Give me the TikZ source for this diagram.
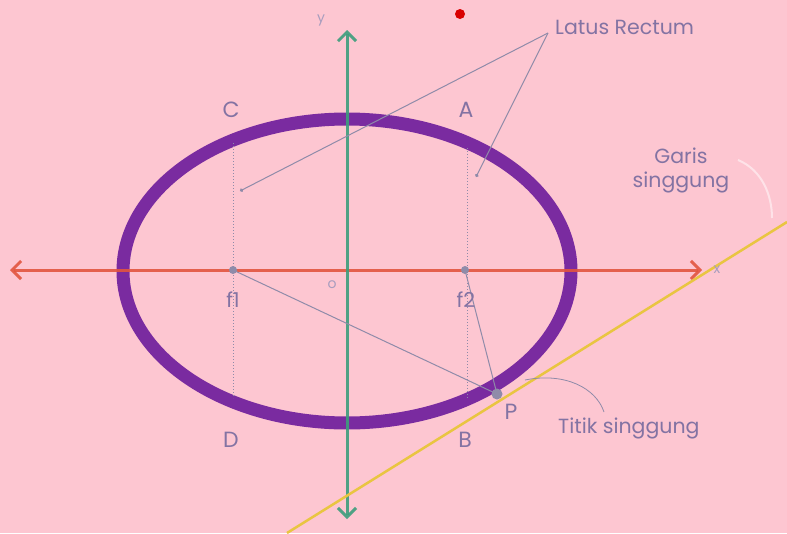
\documentclass[tikz,border=0pt]{standalone}
\usepackage{fontspec}
\setmainfont{Poppins}
\usetikzlibrary{arrows.meta}
\definecolor{bg}{HTML}{FDC6D1}
\definecolor{ellcol}{HTML}{7A2BA0}
\definecolor{xcol}{HTML}{E2553F}
\definecolor{ycol}{HTML}{3C9E7C}
\definecolor{tancol}{HTML}{E9C541}
\definecolor{txtcol}{HTML}{8373A3}
\definecolor{linecol}{HTML}{8F8BA9}
\begin{document}
\begin{tikzpicture}[x=1pt,y=-1pt,
  lbl/.style={text=txtcol,font=\fontsize{22}{24}\selectfont,inner sep=0pt},
  smalllbl/.style={text=txtcol,font=\fontsize{20.5}{24}\selectfont,inner sep=0pt,align=center},
  tinylbl/.style={text=txtcol!70,font=\fontsize{14}{15}\selectfont,inner sep=0pt},
  guide/.style={draw=linecol,line width=1pt},
  dotline/.style={draw=linecol,line width=1pt,dotted},
  axisarrow/.style={line width=3pt,arrows={Straight Barb[length=9pt,width=18pt,line width=3pt]-Straight Barb[length=9pt,width=18pt,line width=3pt]}}]
\fill[bg] (0,0) rectangle (787,533);
\useasboundingbox (0,0) rectangle (787,533);
% coordinates
\coordinate (O) at (347,271);
\coordinate (F1) at (233,270);
\coordinate (F2) at (465,270);
\coordinate (P) at (497,394);
\coordinate (Ctop) at (233,143);
\coordinate (Dbot) at (233,398);
\coordinate (Atop) at (467,148);
\coordinate (Bbot) at (467,398);
\coordinate (LR1) at (240,191);
\coordinate (LR2) at (476,177);
\coordinate (Xl) at (10,270);
\coordinate (Xr) at (702,270);
\coordinate (Yt) at (347,30);
\coordinate (Yb) at (347,519);
\coordinate (T1) at (287,533);
\coordinate (T2) at (787,222);
% ellipse
\draw[ellcol,line width=13pt] (O) ellipse [x radius=224, y radius=152];
% dotted latus rectum lines
\draw[dotline] (Ctop) -- (Dbot);
\draw[dotline] (Atop) -- (Bbot);
% axes
\draw[axisarrow,draw=xcol,opacity=0.9] (Xl) -- (Xr);
\draw[axisarrow,draw=ycol,opacity=0.9] (Yb) -- (Yt);
% focal lines
\draw[guide] (F1) -- (P);
\draw[guide] (F2) -- (P);
% tangent
\draw[tancol,line width=2.5pt] (T1) -- (T2);
% points
\fill[linecol] (F1) circle (4pt);
\fill[linecol] (F2) circle (4pt);
\fill[linecol] (P) circle (5.5pt);
\fill[red!85!black] (460,14) circle (5pt);
% labels
\node[tinylbl] (ylab) at (321,20) {y};
\node[tinylbl] (xlab) at (717,270) {x};
\node[lbl] (Clab) at (231,110) {C};
\node[lbl] (Alab) at (466,110) {A};
\node[lbl] (Dlab) at (231,440) {D};
\node[lbl] (Blab) at (465,440) {B};
\node[lbl] (Plab) at (511,412) {P};
\node[smalllbl] (f1lab) at (233,300) {f1};
\node[smalllbl] (f2lab) at (466,300) {f2};
\node[tinylbl] (olab) at (332,285) {o};
\node[smalllbl,anchor=west] (latus) at (555,27) {Latus Rectum};
\node[smalllbl] (garis) at (681,170) {Garis\\singgung};
\node[smalllbl,anchor=west] (titik) at (558,428) {Titik singgung};
% latus rectum pointers
\coordinate (LRtip) at (548,33);
\draw[guide,-{Circle[length=3.5pt]}] (LRtip) -- (LR1);
\draw[guide,-{Circle[length=3.5pt]}] (LRtip) -- (LR2);
% titik singgung pointer
\coordinate (TSend) at (604,412);
\coordinate (TSstart) at (525,380);
\draw[linecol,line width=0.8pt] (TSstart) .. controls (565,372) and (596,388) .. (TSend);
% garis singgung faint pointer
\coordinate (GSstart) at (738,160);
\coordinate (GSend) at (772,218);
\draw[white,opacity=0.5,line width=2pt] (GSstart) .. controls (762,170) and (772,195) .. (GSend);
\end{tikzpicture}
\end{document}
